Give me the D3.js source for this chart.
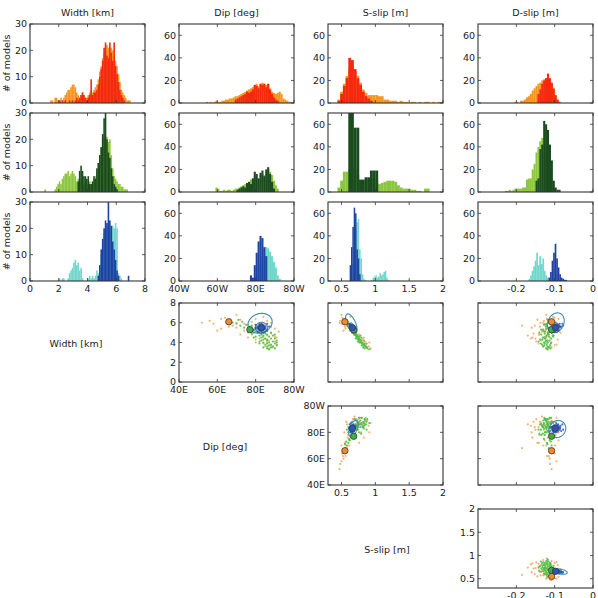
<!DOCTYPE html>
<html>
<head>
<meta charset="utf-8">
<script src="https://cdn.jsdelivr.net/npm/d3@7"></script>
<style>
  body { margin: 0; background: #fff; }
  svg { display: block; font-family: "DejaVu Sans", sans-serif; }
</style>
</head>
<body>
<script>
// ---- variables (columns of the pair plot) ----
const varNames = ["Width [km]", "Dip [deg]", "S-slip [m]", "D-slip [m]"];
const varDomains = [[0, 8], [40, 100], [0.3, 2], [-0.3, 0]];
const varTicks = [[0, 2, 4, 6, 8], [40, 60, 80, 100], [0.5, 1, 1.5, 2], [-0.2, -0.1, 0]];
const dipHistLabels = ["40W", "60W", "80E", "80W"];
const dipScatterLabels = ["40E", "60E", "80E", "80W"];
const countDomains = [[0, 30], [0, 70], [0, 70], [0, 70]];
const countTicks = [[0, 10, 20, 30], [0, 20, 40, 60], [0, 20, 40, 60], [0, 20, 40, 60]];

// ---- histograms: {start, step, counts} ----
// row 1 (orange / red)
const widthOrange = {start: 1.4, step: 0.1, counts: [1,1,0,2,2,1,1,2,1,2, 3,4,5,5,6,7,7,6,4,3, 2,3,4,3,2,2,3,4,5,4, 5,6,7,9,12,14,17,19,21,22, 21,20,21,20,18,16,14,11,8,5, 4,3,2,1,1,1]};
const widthRed = {start: 2.0, step: 0.1, counts: [1,0,1,0,1,0,0,1,0,1, 0,1,2,1,2,3,4,3,2,1, 2,3,9,3,4,4,5,7,10,13, 16,21,23,18,17,23,19,16,23,14, 11,8,5,3,2,1]};
const dipOrange = {start: 54, step: 1, counts: [1,0,1,0,1,2,1,1,2,2, 3,3,4,4,5,6,6,7,8,9, 10,11,12,13,14,16,17,15,17,18, 17,16,17,13,10,9,8,9,10,8, 4,3,2,1,1]};
const dipRed = {start: 69, step: 1, counts: [3,4,5,6,7,8,10,9,10,12, 16,15,13,17,16,17,14,17,12,8, 5,3,2]};
const sslipOrange = {start: 0.44, step: 0.04, counts: [3,10,17,24,30,32,28,24,18,12, 9,7,7,7,7,6,6,3,3,2, 2,2,1,2,1,1,0,1,1,0, 1,0,1,1,0,1,0,1,1]};
const sslipRed = {start: 0.44, step: 0.04, counts: [2,8,15,22,40,38,30,22,16,10, 6,4,2]};
const dslipOrange = {start: -0.205, step: 0.005, counts: [1,1,0,2,2,3,5,6,8,11, 13,15,17,18,20,21,22,22,20,16, 11,6,3,1]};
const dslipRed = {start: -0.145, step: 0.005, counts: [8,12,17,20,22,26,22,18,13,7, 3,1]};

// row 2 (light green / dark green)
const widthLight = {start: 1.0, step: 0.1, counts: [1,0,0,0,0,0,0,1,2,3, 4,3,5,6,7,7,8,6,7,8, 7,6,4,5,4,5,4,3,4,3, 3,4,3,4,5,6,8,11,14,17, 20,21,20,21,19,20,14,9,6,5, 4,3,3,2,2,1,1,1]};
const widthDark = {start: 3.3, step: 0.1, counts: [4,8,10,8,6,6,5,6,3,3, 4,6,5,9,11,14,17,22,28,30, 20,15,13,9,6,3,2,1]};
const dipLight = {start: 59, step: 1, counts: [4,3,1,1,2,1,2,2,1,2, 3,3,4,5,6,7,8,9,11,12, 14,13,12,15,16,15,17,20,18,15, 10,6,3]};
const dipDark = {start: 70, step: 1, counts: [2,3,4,5,4,8,9,7,12,18, 16,12,17,19,14,20,22,16,9,3]};
const sslipLight = {start: 0.44, step: 0.04, counts: [4,10,18,18,20,22,20,15,10,9, 10,11,12,12,10,7,8,9,10,10, 10,9,6,4,3,3,3,2,2,1, 1,0,3,3]};
const sslipDark = {start: 0.60, step: 0.04, counts: [70,70,57,57,11,11,13,13,19,19,19]};
const dslipLight = {start: -0.23, step: 0.005, counts: [1,1,2,1,2,3,3,3,3,4, 4,11,12,12,20,25,35,40,45,48, 46,40,30,20,10,4]};
const dslipDark = {start: -0.15, step: 0.005, counts: [10,12,38,42,63,60,55,42,28,10, 4,2,2]};

// row 3 (cyan / blue)
const widthCyan = {start: 2.0, step: 0.1, counts: [1,0,1,1,0,0,1,3,4,5, 7,8,6,7,4,5,1,0,0,0, 1,2,1,2,1,2,4,3,6,10, 14,18,20,21,20,19,20,21,20,22, 20,3,2,1]};
const widthBlue = {start: 4.7, step: 0.1, counts: [2,6,12,16,20,23,22,30,23,21, 15,12,8,4,2,0,0,0,0,0, 0,2]};
const dipCyan = {start: 80, step: 1, counts: [5,10,15,22,28,30,29,26,22,17,12,5,2]};
const dipBlue = {start: 77, step: 1, counts: [5,3,14,25,35,40,38,30,22]};
const sslipCyan = {start: 0.64, step: 0.02, counts: [5,15,30,45,52,55,28,20,6,2, 1,0,0,0,0,1,3,4,5,3, 4,7,5,6,8,9,3,1]};
const sslipBlue = {start: 0.62, step: 0.02, counts: [14,30,48,65,60,28,20,6]};
const dslipCyan = {start: -0.168, step: 0.004, counts: [2,5,9,13,18,25,14,22,15,20,9,5,3,2]};
const dslipBlue = {start: -0.116, step: 0.004, counts: [3,8,18,25,33,20,12,6,3,2,1,1]};

const histRows = [
  [[widthOrange, widthRed], [dipOrange, dipRed], [sslipOrange, sslipRed], [dslipOrange, dslipRed]],
  [[widthLight, widthDark], [dipLight, dipDark], [sslipLight, sslipDark], [dslipLight, dslipDark]],
  [[widthCyan, widthBlue], [dipCyan, dipBlue], [sslipCyan, sslipBlue], [dslipCyan, dslipBlue]]
];
const histColors = [["#f7941e", "#f4290f"], ["#8cc63f", "#1a4c1f"], ["#72d6cc", "#1d43a3"]];

// ---- sampled models: [width, dip, s-slip, d-slip] ----
const orangeModels = [
  [6.2,56,0.48,-0.112],[5.9,58,0.50,-0.095],[6.4,62,0.52,-0.120],[5.6,66,0.55,-0.105],[6.0,70,0.57,-0.130],
  [5.2,74,0.62,-0.090],[4.8,78,0.68,-0.140],[4.4,82,0.73,-0.150],[4.0,86,0.78,-0.118],[3.7,88,0.84,-0.100],
  [5.5,80,0.64,-0.160],[5.0,84,0.70,-0.085],[4.6,90,0.75,-0.125],[6.3,72,0.55,-0.145],[5.8,76,0.59,-0.110],
  [4.2,87,0.80,-0.135],[3.5,89,0.88,-0.108],[5.3,86,0.66,-0.122],[4.9,88,0.72,-0.155],[6.5,64,0.51,-0.100],
  [5.1,82,0.68,-0.128],[4.5,91,0.76,-0.112],[5.7,68,0.58,-0.185],[3.9,84,0.82,-0.142],[6.1,78,0.60,-0.098],
  [4.7,86,0.74,-0.170],[5.4,90,0.67,-0.115],[3.6,85,0.90,-0.130],[5.9,74,0.62,-0.126],[4.3,80,0.79,-0.092],
  [6.0,52,0.47,-0.108],[5.6,88,0.65,-0.138],[4.1,90,0.85,-0.148],[5.0,76,0.71,-0.118],[6.6,84,0.63,-0.104],
  [6.8,70,0.50,-0.122],[5.4,62,0.56,-0.115],[3.8,91,0.86,-0.095],[4.5,76,0.83,-0.158],[6.2,86,0.58,-0.128],
  [5.1,92,0.69,-0.133],[4.0,80,0.91,-0.118],[6.4,80,0.54,-0.090],[5.7,84,0.60,-0.152],[4.8,72,0.76,-0.141],
  [3.4,87,0.93,-0.121],[5.2,60,0.53,-0.113],[6.0,88,0.57,-0.137],[4.4,85,0.81,-0.162],[5.5,70,0.61,-0.099]
];
const greenModels = [
  [5.4,76,0.64,-0.108],[5.2,79,0.66,-0.112],[5.0,81,0.68,-0.118],[4.8,83,0.70,-0.115],[4.6,84,0.72,-0.122],
  [4.4,85,0.74,-0.125],[4.2,86,0.76,-0.118],[4.0,87,0.79,-0.128],[3.8,88,0.82,-0.121],[3.6,89,0.85,-0.130],
  [3.5,88,0.87,-0.116],[3.9,86,0.80,-0.110],[4.3,84,0.75,-0.132],[4.7,82,0.71,-0.105],[5.1,80,0.67,-0.125],
  [5.5,74,0.62,-0.113],[5.7,72,0.60,-0.120],[5.9,70,0.58,-0.108],[5.3,78,0.65,-0.135],[4.9,85,0.69,-0.117],
  [4.1,89,0.78,-0.124],[3.7,87,0.83,-0.112],[4.5,83,0.73,-0.128],[5.6,77,0.63,-0.101],[5.0,79,0.66,-0.140],
  [4.4,88,0.76,-0.109],[3.4,90,0.88,-0.122],[5.2,82,0.67,-0.098],[5.8,75,0.61,-0.128],[4.8,86,0.72,-0.135],
  [4.0,84,0.81,-0.119],[6.0,68,0.56,-0.115],[5.4,80,0.64,-0.122],[4.6,87,0.74,-0.104],[3.9,90,0.84,-0.126],
  [5.1,83,0.69,-0.111],[4.3,86,0.77,-0.138],[5.5,81,0.63,-0.117],[3.6,86,0.86,-0.119],[4.9,78,0.70,-0.126],
  [6.1,73,0.57,-0.110],[4.2,91,0.79,-0.113],[5.3,84,0.66,-0.130],[3.8,85,0.83,-0.133],[4.7,89,0.73,-0.121],
  [5.8,80,0.60,-0.125],[4.6,80,0.76,-0.115],[3.3,87,0.91,-0.118],[4.1,82,0.74,-0.142],[5.0,88,0.66,-0.107],
  [3.7,91,0.80,-0.127],[4.5,79,0.79,-0.131],[5.6,84,0.61,-0.123],[4.8,90,0.69,-0.118],[3.5,84,0.82,-0.114],
  [6.3,71,0.55,-0.119],[4.2,83,0.83,-0.122],[5.2,86,0.71,-0.129],[4.0,91,0.76,-0.109],[3.9,82,0.87,-0.136],
  [5.7,78,0.65,-0.106],[4.4,90,0.71,-0.124],[3.4,86,0.84,-0.111],[5.9,82,0.58,-0.121],[4.7,84,0.78,-0.103]
];
const blueModels = [
  [5.5,83,0.66,-0.095],[5.3,82,0.67,-0.100],[5.7,84,0.65,-0.090],[5.4,81,0.68,-0.105],[5.6,85,0.64,-0.085],
  [5.2,83,0.69,-0.098],[5.8,82,0.63,-0.092],[5.0,84,0.70,-0.108],[5.5,80,0.66,-0.102],[5.9,86,0.62,-0.080],
  [5.1,81,0.68,-0.112],[5.6,83,0.67,-0.088],[5.4,85,0.65,-0.094],[5.3,79,0.70,-0.106],[5.7,82,0.64,-0.078],
  [5.5,84,0.66,-0.099],[5.2,86,0.68,-0.091],[5.8,80,0.63,-0.097],[5.4,83,0.67,-0.103],[5.6,81,0.65,-0.083],
  [5.3,84,0.69,-0.110],[5.5,82,0.66,-0.093],[5.9,83,0.61,-0.087],[5.1,85,0.71,-0.101],[5.6,87,0.64,-0.096]
];
// best-fit models (circled)
const bestModels = [[6.1,66,0.55,-0.108],[5.3,77,0.68,-0.108],[5.5,83,0.66,-0.098]];
const bestColors = ["#f08a2a", "#3fae49", "#2a55b8"];
const dotColors = ["#f6aa66", "#4fbf45", "#2e66c8"];

// ---- contour ellipses per scatter panel: [cx, cy, rx, ry, rho] ----
const contourDipWidth = [[82.3,5.95,6.3,1.0,0.15],[83,5.5,3.2,0.55,0],[83,5.5,1.6,0.3,0]];
const contourSslipWidth = [[0.645,5.9,0.085,1.0,-0.6],[0.66,5.5,0.04,0.5,-0.5],[0.66,5.5,0.02,0.28,-0.5]];
const contourDslipWidth = [[-0.097,6.0,0.022,1.0,0.2],[-0.098,5.5,0.012,0.5,0],[-0.098,5.5,0.006,0.28,0]];
const contourSslipDip = [[0.675,83,0.07,6,0.5],[0.66,83,0.035,3,0.3],[0.66,83,0.018,1.6,0.3]];
const contourDslipDip = [[-0.093,82.5,0.022,6.5,0.1],[-0.097,83,0.012,3,0],[-0.097,83,0.006,1.6,0]];
const contourDslipSslip = [[-0.087,0.655,0.02,0.06,-0.4],[-0.092,0.66,0.012,0.035,-0.3],[-0.092,0.66,0.006,0.02,-0.3]];
const contours = {
  "0-1": contourDipWidth, "0-2": contourSslipWidth, "0-3": contourDslipWidth,
  "1-2": contourSslipDip, "1-3": contourDslipDip, "2-3": contourDslipSslip
};

// ---- layout ----
const W = 598, H = 598;
const pw = 115, ph = 79;
const colX = [30, 179, 328, 478];
const histY = [24, 113, 202];
const scatY = [303, 406, 509];
const diagLabelX = [76, 225, 387];

const svg = d3.select("body").append("svg")
  .attr("width", W).attr("height", H)
  .attr("viewBox", [0, 0, W, H]);

const fs = 9.5;

function fmt(v) { return String(v); }

function frame(g, x, y, xTicks, yTicks, xLabels, yLabels) {
  const [x0, x1] = x.range();
  const [y1, y0] = y.range(); // y1 bottom, y0 top
  const t = 3;
  const tk = g.append("g").attr("stroke", "#333").attr("stroke-width", 0.8);
  xTicks.forEach(v => {
    const px = x(v);
    tk.append("line").attr("x1", px).attr("x2", px).attr("y1", y1).attr("y2", y1 - t);
    tk.append("line").attr("x1", px).attr("x2", px).attr("y1", y0).attr("y2", y0 + t);
  });
  yTicks.forEach(v => {
    const py = y(v);
    tk.append("line").attr("x1", x0).attr("x2", x0 + t).attr("y1", py).attr("y2", py);
    tk.append("line").attr("x1", x1).attr("x2", x1 - t).attr("y1", py).attr("y2", py);
  });
  g.append("rect")
    .attr("x", x0).attr("y", y0).attr("width", x1 - x0).attr("height", y1 - y0)
    .attr("fill", "none").attr("stroke", "#333").attr("stroke-width", 1.1);
  if (xLabels) {
    g.append("g").selectAll("text").data(xTicks).join("text")
      .attr("x", d => x(d)).attr("y", y1 + 4).attr("dy", "0.75em")
      .attr("text-anchor", "middle").attr("font-size", fs).attr("fill", "#222")
      .text((d, i) => xLabels[i]);
  }
  if (yLabels) {
    g.append("g").selectAll("text").data(yTicks).join("text")
      .attr("x", x0 - 3).attr("y", d => y(d)).attr("dy", "0.36em")
      .attr("text-anchor", "end").attr("font-size", fs).attr("fill", "#222")
      .text((d, i) => yLabels[i]);
  }
}

// ---- column titles ----
varNames.forEach((name, c) => {
  svg.append("text")
    .attr("x", colX[c] + pw / 2).attr("y", 16)
    .attr("text-anchor", "middle").attr("font-size", fs).attr("fill", "#222")
    .text(name);
});

// ---- histograms ----
histRows.forEach((row, r) => {
  svg.append("text")
    .attr("transform", `translate(10,${histY[r] + ph / 2}) rotate(-90)`)
    .attr("text-anchor", "middle").attr("font-size", fs).attr("fill", "#222")
    .text("# of models");

  row.forEach((pair, c) => {
    const g = svg.append("g");
    const x = d3.scaleLinear().domain(varDomains[c]).range([colX[c], colX[c] + pw]);
    const y = d3.scaleLinear().domain(countDomains[c]).range([histY[r] + ph, histY[r]]);
    pair.forEach((h, k) => {
      g.append("g").attr("fill", histColors[r][k])
        .selectAll("rect").data(h.counts.map((n, i) => ({n, lo: h.start + i * h.step, hi: h.start + (i + 1) * h.step})))
        .join("rect")
        .filter(d => d.n > 0)
        .attr("x", d => x(d.lo))
        .attr("width", d => Math.max(0.6, x(d.hi) - x(d.lo) + 0.15))
        .attr("y", d => y(d.n))
        .attr("height", d => y(0) - y(d.n));
    });
    const xl = r === 2 ? (c === 1 ? dipHistLabels : varTicks[c].map(fmt)) : null;
    frame(g, x, y, varTicks[c], countTicks[c], xl, countTicks[c].map(fmt));
  });
});

// ---- scatter pair panels ----
const ellipseT = d3.range(0, 2 * Math.PI + 0.01, Math.PI / 40);
const modelSets = [orangeModels, greenModels, blueModels];

for (let r = 0; r < 3; r++) {
  svg.append("text")
    .attr("x", diagLabelX[r]).attr("y", scatY[r] + ph / 2 + 4)
    .attr("text-anchor", "middle").attr("font-size", fs).attr("fill", "#222")
    .text(varNames[r]);

  for (let c = r + 1; c < 4; c++) {
    const g = svg.append("g");
    const x = d3.scaleLinear().domain(varDomains[c]).range([colX[c], colX[c] + pw]);
    const y = d3.scaleLinear().domain(varDomains[r]).range([scatY[r] + ph, scatY[r]]);

    modelSets.forEach((models, k) => {
      g.append("g").attr("fill", dotColors[k]).attr("fill-opacity", 0.9)
        .selectAll("circle").data(models).join("circle")
        .attr("cx", d => x(d[c])).attr("cy", d => y(d[r])).attr("r", 1.1);
    });

    const line = d3.line().x(p => x(p[0])).y(p => y(p[1]));
    contours[`${r}-${c}`].forEach((e, i) => {
      const [cx, cy, rx, ry, rho] = e;
      const pts = ellipseT.map(t => [cx + rx * Math.cos(t),
        cy + ry * (rho * Math.cos(t) + Math.sqrt(1 - rho * rho) * Math.sin(t))]);
      g.append("path").attr("d", line(pts))
        .attr("fill", i === 0 ? "none" : "#2a5fc0").attr("fill-opacity", i === 0 ? 0 : 0.35)
        .attr("stroke", i === 0 ? "#3a8fae" : "#1f45a8")
        .attr("stroke-width", i === 0 ? 1.1 : 0.8);
    });

    g.append("g").selectAll("circle").data(bestModels).join("circle")
      .attr("cx", d => x(d[c])).attr("cy", d => y(d[r])).attr("r", 3.2)
      .attr("fill", (d, i) => bestColors[i])
      .attr("stroke", "#3a3a3a").attr("stroke-width", 0.8);

    const showLabels = c === r + 1;
    const labelsFor = v => v === 1 ? dipScatterLabels : varTicks[v].map(fmt);
    frame(g, x, y, varTicks[c], varTicks[r],
      showLabels ? labelsFor(c) : null, showLabels ? labelsFor(r) : null);
  }
}
</script>
</body>
</html>
